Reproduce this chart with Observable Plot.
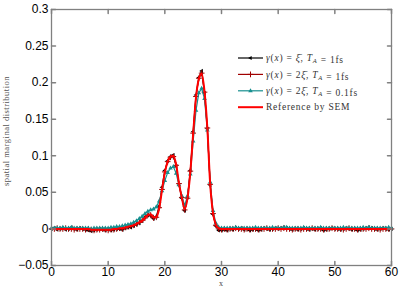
<!DOCTYPE html>
<html><head><meta charset="utf-8">
<script src="https://cdn.jsdelivr.net/npm/d3@7"></script>
<script src="https://cdn.jsdelivr.net/npm/@observablehq/plot@0.6"></script>
<style>body{margin:0;background:#fff;} #chart{width:401px;height:286px;}</style>
</head><body><div id="chart"></div>
<script>
const xs = [
0,0.5,1,1.5,2,2.5,3,3.5,4,4.5,5,
5.5,6,6.5,7,7.5,8,8.5,9,9.5,10,
10.5,11,11.5,12,12.5,13,13.5,14,14.5,15,
15.5,16,16.5,17,17.5,18,18.5,19,19.5,20,
20.5,21,21.5,22,22.5,23,23.5,24,24.5,25,
25.5,26,26.5,27,27.5,28,28.5,29,29.5,30,
30.5,31,31.5,32,32.5,33,33.5,34,34.5,35,
35.5,36,36.5,37,37.5,38,38.5,39,39.5,40,
40.5,41,41.5,42,42.5,43,43.5,44,44.5,45,
45.5,46,46.5,47,47.5,48,48.5,49,49.5,50,
50.5,51,51.5,52,52.5,53,53.5,54,54.5,55,
55.5,56,56.5,57,57.5,58,58.5,59,59.5,60];

// Reference by SEM
const semRef = [
0,0,0,0,0,0,0,0,0,0,0,
0,0,0,-0.001,-0.001,-0.001,-0.001,-0.001,-0.001,-0.001,
-0.001,0,0,0.001,0.001,0.002,0.003,0.004,0.005,0.007,
0.009,0.011,0.015,0.019,0.020,0.016,0.016,0.028,0.053,0.077,
0.092,0.099,0.100,0.088,0.062,0.043,0.027,0.042,0.078,0.130,
0.180,0.205,0.212,0.188,0.138,0.062,0.022,0.006,0.001,0,
0,0,0,0,0,0,0,0,0,0,
0,0,0,0,0,0,0,0,0,0,
0,0,0,0,0,0,0,0,0,0,
0,0,0,0,0,0,0,0,0,0,
0,0,0,0,0,0,0,0,0,0,
0,0,0,0,0,0,0,0,0,0];

// gamma = xi, T_A = 1fs
const xi1fs = [
0,0.001,-0.001,0,0.001,-0.001,0,0.002,0,-0.001,0.001,
0,-0.001,-0.002,-0.003,-0.002,-0.001,0,-0.001,-0.002,-0.001,
-0.002,-0.001,0,0,-0.001,0.001,0.002,0.002,0.004,0.006,
0.008,0.011,0.016,0.019,0.018,0.014,0.017,0.031,0.057,0.080,
0.093,0.099,0.101,0.086,0.060,0.042,0.025,0.043,0.080,0.133,
0.183,0.207,0.216,0.186,0.137,0.060,0.020,0.004,-0.002,-0.002,
-0.001,-0.002,0,-0.001,0.001,0,0.001,-0.001,0,-0.002,
-0.001,0,-0.002,-0.001,0.001,0,-0.001,0,0.001,0,
0.001,0.002,0.001,0,-0.001,0,-0.001,0,0.001,0,
-0.001,0,-0.001,0,0.001,-0.002,-0.001,0,0.001,0,
0,-0.001,0,0.001,0,-0.001,0,-0.002,-0.001,0,
0.001,0.002,0.001,0,-0.001,0,0.001,0,-0.001,0];

// gamma = 2 xi, T_A = 1fs
const twoXi1fs = [
0,0,0.001,0,0,0.001,0,0,-0.001,0,0,
0,-0.001,0,-0.001,-0.002,-0.001,-0.001,0,-0.001,-0.002,
-0.001,-0.001,0,0.001,0,0.002,0.003,0.004,0.005,0.007,
0.009,0.012,0.015,0.019,0.019,0.015,0.016,0.029,0.054,0.078,
0.092,0.098,0.099,0.087,0.062,0.043,0.026,0.042,0.079,0.131,
0.181,0.206,0.213,0.187,0.138,0.061,0.021,0.005,0,-0.001,
0,-0.001,0,0,0.001,0,0,-0.001,0,-0.001,
0,0,-0.001,0,0,0.001,0,0,0,0.001,
0,0.001,0,0,-0.001,0,0,-0.001,0,0,
0,0.001,0,0,0,-0.001,0,0,0.001,0,
0,0,-0.001,0,0.001,0,0,-0.001,0,0,
0,0.001,0,0,0,-0.001,0,0,0,0];

// gamma = 2 xi, T_A = 0.1fs
const twoXi01fs = [
0.001,0.001,0.001,0.001,0.002,0.001,0.001,0.002,0.001,0.001,0.001,
0.001,0.001,0.001,0,0.001,0.001,0.001,0.001,0.001,0.001,
0.002,0.002,0.003,0.003,0.004,0.005,0.006,0.007,0.009,0.011,
0.014,0.017,0.021,0.024,0.026,0.027,0.030,0.038,0.052,0.066,
0.077,0.083,0.085,0.076,0.060,0.045,0.032,0.045,0.075,0.120,
0.162,0.186,0.192,0.178,0.135,0.064,0.025,0.008,0.002,0.001,
0.001,0.001,0.001,0.001,0.002,0.001,0.001,0.001,0.001,0.001,
0.001,0.002,0.001,0.001,0.001,0.001,0.001,0.002,0.001,0.001,
0.001,0.002,0.002,0.001,0.001,0.001,0.001,0.001,0.002,0.001,
0.001,0.001,0.001,0.001,0.002,0.001,0.001,0.001,0.001,0.001,
0.001,0.001,0.002,0.001,0.001,0.001,0.001,0.001,0.001,0.002,
0.001,0.002,0.001,0.001,0.001,0.001,0.001,0.001,0.002,0.001];

const xTicks = [0,10,20,30,40,50,60];
const xTickLabels = ["0","10","20","30","40","50","60"];
const yTicks = [-0.05,0,0.05,0.1,0.15,0.2,0.25,0.3];
const yTickLabels = ["\u22120.05","0","0.05","0.1","0.15","0.2","0.25","0.3"];
const seriesNames = ["\u03b3(x) = \u03be\u0304, T_A = 1fs","\u03b3(x) = 2\u03be\u0304, T_A = 1fs","\u03b3(x) = 2\u03be\u0304, T_A = 0.1fs","Reference by SEM"];
const seriesColors = ["#000000","#a00000","#178f8f","#ff0000"];
const seriesSymbols = ["triangle2","plus","triangle2",null];
const xLabel = "x";
const yLabel = "spatial marginal distribution";

const rows = xs.map((x,i)=>({x, s0: xi1fs[i], s1: twoXi1fs[i], s2: twoXi01fs[i], s3: semRef[i]}));

const tickShape = {draw(context, l){ context.moveTo(0,0); context.lineTo(0,-l); }};
const axisGray = "#808080";

const chart = Plot.plot({
  width: 401, height: 286,
  marginLeft: 51, marginRight: 10, marginTop: 9, marginBottom: 21,
  style: {fontFamily: "'Liberation Sans', Arial, sans-serif", fontSize: "12px", background: "#fff", overflow: "visible"},
  x: {domain: [0, 60]},
  y: {domain: [-0.05, 0.3]},
  marks: [
    Plot.line(rows, {x: "x", y: "s0", stroke: seriesColors[0], strokeWidth: 1.2}),
    Plot.dot(rows, {x: "x", y: "s0", symbol: "triangle2", rotate: -90, r: 2, fill: seriesColors[0]}),
    Plot.line(rows, {x: "x", y: "s1", stroke: seriesColors[1], strokeWidth: 1.1}),
    Plot.dot(rows, {x: "x", y: "s1", symbol: "plus", r: 2, stroke: seriesColors[1], strokeWidth: 1}),
    Plot.line(rows, {x: "x", y: "s2", stroke: seriesColors[2], strokeWidth: 1.2}),
    Plot.dot(rows, {x: "x", y: "s2", symbol: "triangle2", r: 2.2, fill: seriesColors[2]}),
    Plot.line(rows, {x: "x", y: "s3", stroke: seriesColors[3], strokeWidth: 2, curve: "monotone-x"}),
    Plot.frame({stroke: axisGray, strokeWidth: 1.3}),
    Plot.vector(xTicks, {x: d => d, frameAnchor: "bottom", rotate: 0, length: 4, anchor: "start", shape: tickShape, stroke: axisGray}),
    Plot.vector(xTicks, {x: d => d, frameAnchor: "top", rotate: 180, length: 4, anchor: "start", shape: tickShape, stroke: axisGray}),
    Plot.vector(yTicks, {y: d => d, frameAnchor: "left", rotate: 90, length: 4, anchor: "start", shape: tickShape, stroke: axisGray}),
    Plot.vector(yTicks, {y: d => d, frameAnchor: "right", rotate: -90, length: 4, anchor: "start", shape: tickShape, stroke: axisGray}),
    Plot.axisX({ticks: xTicks, tickSize: 0, tickPadding: 2, tickFormat: d => xTickLabels[xTicks.indexOf(d)], label: null, fontSize: 12, fill: "#000"}),
    Plot.axisY({ticks: yTicks, tickSize: 0, tickPadding: 3, tickFormat: d => yTickLabels[yTicks.indexOf(d)], label: null, fontSize: 12, fill: "#000"})
  ]
});
document.getElementById("chart").appendChild(chart);

const svg = d3.select(chart);
const serif = "'Liberation Serif','Times New Roman',serif";

// axis titles
svg.append("text").attr("x", 221).attr("y", 285.5).attr("text-anchor", "middle")
  .attr("font-family", serif).attr("font-size", 8).attr("fill", "#444").text(xLabel);
svg.append("text").attr("transform", "translate(9,131) rotate(-90)").attr("text-anchor", "middle")
  .attr("font-family", serif).attr("font-size", 8.5).attr("letter-spacing", 0.5).attr("fill", "#555").text(yLabel);

// legend
const italicChars = new Set(["\u03b3","x","T","\u03be","\u0304"]);
function richText(sel, label){
  const parts = label.split(/(_\w)/);
  parts.forEach(p => {
    if (!p) return;
    if (p.startsWith("_")) {
      sel.append("tspan").attr("font-style","italic").attr("font-size",6.5).attr("dy", 2).text(p.slice(1));
      sel.append("tspan").attr("dy", -2).text("");
      return;
    }
    let run = "", it = null;
    const flush = () => { if (run) sel.append("tspan").attr("font-style", it ? "italic" : "normal").text(run); run = ""; };
    for (const ch of p) {
      const isIt = italicChars.has(ch);
      if (it !== null && isIt !== it) flush();
      it = isIt; run += ch;
    }
    flush();
  });
}
const lg = svg.append("g").attr("font-family", serif).attr("font-size", 9.5).attr("letter-spacing", 0.75)
  .attr("fill", "#333").attr("text-anchor", "start");
const legendTop = 58, legendGap = 16.4, lineX0 = 238, lineX1 = 263, textX = 266;
seriesNames.forEach((name, i) => {
  const y = legendTop + i * legendGap;
  lg.append("line").attr("x1", lineX0).attr("x2", lineX1).attr("y1", y).attr("y2", y)
    .attr("stroke", seriesColors[i]).attr("stroke-width", i === 3 ? 2 : 1.2);
  const sym = seriesSymbols[i];
  if (sym === "triangle2") {
    lg.append("path").attr("d", d3.symbol(d3.symbolTriangle2, Math.PI * (i === 0 ? 2 : 2.2) ** 2)())
      .attr("transform", `translate(${(lineX0 + lineX1) / 2},${y}) rotate(${i === 0 ? -90 : 0})`).attr("fill", seriesColors[i]);
  } else if (sym === "plus") {
    lg.append("path").attr("d", d3.symbol(d3.symbolPlus, Math.PI * 4)())
      .attr("transform", `translate(${(lineX0 + lineX1) / 2},${y})`).attr("fill", "none").attr("stroke", seriesColors[i]);
  }
  const t = lg.append("text").attr("x", textX).attr("y", y + 3.2).attr("text-anchor", "start");
  richText(t, name);
});
</script>
</body></html>
